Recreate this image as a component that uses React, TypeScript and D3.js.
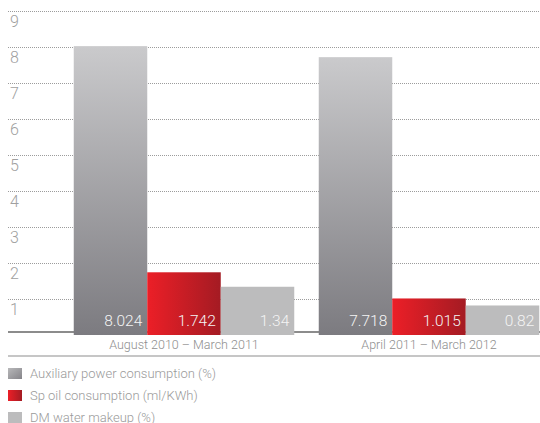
import React from "react";
import * as d3 from "d3";

const categories = ["August 2010 – March 2011", "April 2011 – March 2012"];
const seriesKeys = ["aux", "oil", "dm"];
const seriesNames = [
  "Auxiliary power consumption (%)",
  "Sp oil consumption (ml/KWh)",
  "DM water makeup (%)",
];
const auxPower = [8.024, 7.718];
const spOil = [1.742, 1.015];
const dmWater = [1.34, 0.82];
const yTicks = [1, 2, 3, 4, 5, 6, 7, 8, 9];

const W = 540;
const H = 423;
const FONT = "Roboto, 'Liberation Sans', Arial, sans-serif";

export default function App() {
  const seriesValues = [auxPower, spOil, dmWater];
  const fills = ["url(#gAux)", "url(#gOil)", "#bcbcbd"];
  const swatchFills = ["url(#sAux)", "url(#gOil)", "#bcbcbd"];

  const y = d3.scaleLinear().domain([0, 9]).range([335, 11]);
  const x0 = d3
    .scaleBand<string>()
    .domain(categories)
    .range([61.5, 551.5])
    .paddingInner(0.1)
    .paddingOuter(0.05);
  const x1 = d3
    .scaleBand<string>()
    .domain(seriesKeys)
    .range([0, x0.bandwidth()]);

  const left = 8;
  const right = 540;

  return (
    <svg
      width={W}
      height={H}
      style={{ position: "absolute", left: 0, top: 0, background: "#fff" }}
      fontFamily={FONT}
    >
      <defs>
        <linearGradient id="gAux" x1="0" y1="0" x2="0" y2="1">
          <stop offset="0%" stopColor="#cacacc" />
          <stop offset="100%" stopColor="#7c7b80" />
        </linearGradient>
        <linearGradient id="sAux" x1="0" y1="0" x2="1" y2="1">
          <stop offset="0%" stopColor="#b8b8ba" />
          <stop offset="100%" stopColor="#858489" />
        </linearGradient>
        <linearGradient id="gOil" x1="0" y1="0" x2="1" y2="0">
          <stop offset="0%" stopColor="#ec1f27" />
          <stop offset="100%" stopColor="#a41b23" />
        </linearGradient>
      </defs>

      {/* dotted gridlines and tick labels */}
      {yTicks.map((t) => (
        <g key={t}>
          <line
            x1={left}
            x2={right}
            y1={y(t) + 0.5}
            y2={y(t) + 0.5}
            stroke="#9c9c9c"
            strokeWidth={1}
            strokeDasharray="1,1"
          />
          <text
            x={10}
            y={y(t) + 16}
            fontSize={16}
            fontWeight={300}
            fill="#a0a0a0"
          >
            {t}
          </text>
        </g>
      ))}

      {/* baseline */}
      <line x1={left} x2={right} y1={332} y2={332} stroke="#8c8c8c" strokeWidth={2} />

      {/* grouped bars */}
      {categories.map((c, ci) => (
        <g key={c} transform={`translate(${x0(c)},0)`}>
          {seriesKeys.map((k, si) => {
            const v = seriesValues[si][ci];
            const bx = x1(k) as number;
            return (
              <g key={k}>
                <rect
                  x={bx}
                  y={y(v)}
                  width={x1.bandwidth()}
                  height={y(0) - y(v)}
                  fill={fills[si]}
                />
                <text
                  x={bx + x1.bandwidth() - 5}
                  y={326}
                  textAnchor="end"
                  fontSize={15.5}
                  fontWeight={300}
                  fill="#f4f4f4"
                >
                  {String(v)}
                </text>
              </g>
            );
          })}
          <text
            x={x0.bandwidth() / 2}
            y={349}
            textAnchor="middle"
            fontSize={12.5}
            fontWeight={300}
            fill="#8e8e8e"
          >
            {c}
          </text>
        </g>
      ))}

      {/* lower rule */}
      <line x1={left} x2={right} y1={356} y2={356} stroke="#c6c6c6" strokeWidth={2} />

      {/* legend */}
      {seriesNames.map((n, i) => (
        <g key={n} transform={`translate(0,${378 + i * 22})`}>
          <rect x={8} y={-10} width={14} height={11} fill={swatchFills[i]} />
          <text x={30} y={0} fontSize={13} fontWeight={300} fill="#9a9a9a">
            {n}
          </text>
        </g>
      ))}
    </svg>
  );
}
